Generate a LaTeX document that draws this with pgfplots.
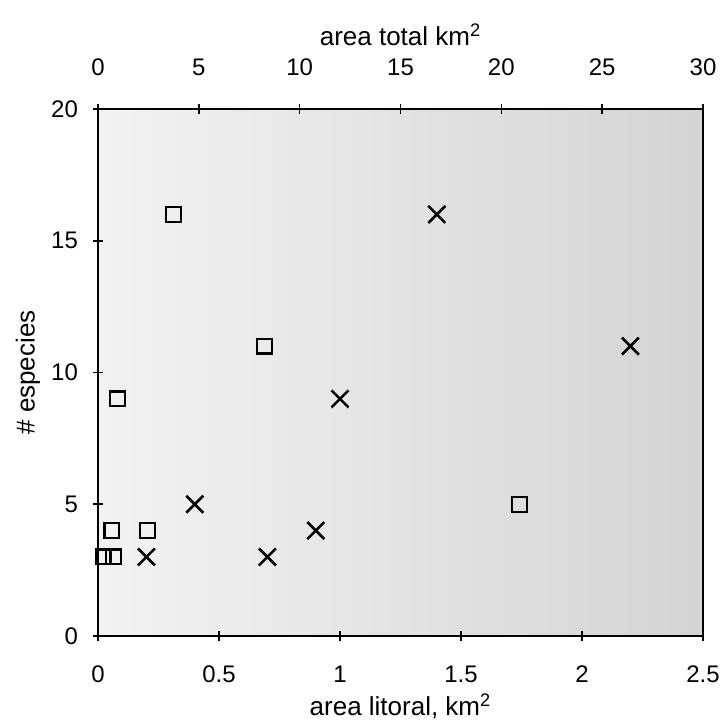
\documentclass[border=0pt]{standalone}
\usepackage{pgfplots}
\pgfplotsset{compat=1.18}
\usepackage{fontspec}
\setmainfont{Liberation Sans}

\begin{document}
\begin{tikzpicture}

\pgfplotsset{
    every axis/.append style={
        scale only axis,
        width=302.5pt, height=263.5pt,
        ymin=0, ymax=20,
        tick align=center,
        major tick length=5pt,
        every tick/.style={black, line width=0.8pt},
        /pgf/number format/assume math mode=true,
        tick label style={font=\fontsize{12}{14}\selectfont},
        label style={font=\fontsize{13}{15}\selectfont},
    },
}

% bottom axis: area litoral (crosses)
\begin{axis}[
    xmin=0, xmax=2.5,
    xtick={0,0.5,1,1.5,2,2.5},
    ytick={0,5,10,15,20},
    xtick pos=bottom, ytick pos=left,
    axis line style={black, line width=1.1pt},
    axis background/.style={left color=black!5, right color=black!17},
    xticklabel style={yshift=-9pt},
    yticklabel style={xshift=-4pt},
    xlabel={area litoral, km\textsuperscript{2}},
    ylabel={\# especies},
    xlabel style={at={([yshift=-35pt]axis description cs:0.5,0)}, anchor=center},
    ylabel style={at={([xshift=-35pt]axis description cs:0,0.5)}, anchor=center},
]
\addplot [only marks, mark=x, mark size=6pt, black, line width=1.3pt]
table{%
x    y
0.20 3
0.70 3
0.90 4
0.40 5
1.00 9
2.20 11
1.40 16
};
\end{axis}

% top axis: area total (squares)
\begin{axis}[
    xmin=0, xmax=30,
    xtick={0,5,10,15,20,25,30},
    axis x line*=top,
    axis y line=none,
    axis line style={black, line width=1.1pt},
    xticklabel style={yshift=10.5pt},
    xlabel={area total km\textsuperscript{2}},
    xlabel style={at={([yshift=37pt]axis description cs:0.5,1)}, anchor=center},
]
\addplot [only marks, mark=square, mark size=3.7pt, black, line width=1.1pt]
table{%
x     y
0.25  3
0.78  3
0.69  4
2.45  4
0.98  9
3.75  16
8.25  11
20.9  5
};
\end{axis}

\pgfresetboundingbox
\path[use as bounding box] (-49pt,-45.5pt) rectangle (312pt,318pt);
\end{tikzpicture}
\end{document}
